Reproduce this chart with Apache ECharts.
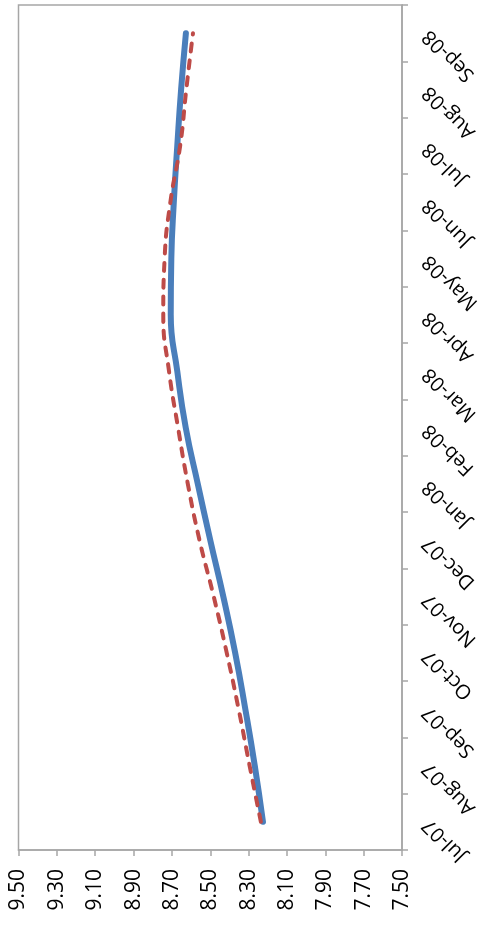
<!DOCTYPE html>
<html>
<head>
<meta charset="utf-8">
<script src="https://cdn.jsdelivr.net/npm/echarts@6/dist/echarts.min.js"></script>
<style>
html,body{margin:0;padding:0;background:#fff;}
#c{width:494px;height:926px;}
</style>
</head>
<body>
<div id="c"></div>
<script>
var categories = ['Jul-07','Aug-07','Sep-07','Oct-07','Nov-07','Dec-07','Jan-08','Feb-08','Mar-08','Apr-08','May-08','Jun-08','Jul-08','Aug-08','Sep-08'];
var seriesBlue = [8.225, 8.268, 8.317, 8.370, 8.432, 8.500, 8.565, 8.628, 8.672, 8.706, 8.703, 8.690, 8.672, 8.652, 8.627];
var seriesRed  = [8.236, 8.295, 8.352, 8.414, 8.482, 8.556, 8.617, 8.668, 8.715, 8.745, 8.738, 8.708, 8.657, 8.625, 8.590];
var valueTicks = [7.5, 7.7, 7.9, 8.1, 8.3, 8.5, 8.7, 8.9, 9.1, 9.3, 9.5];

var chart = echarts.init(document.getElementById('c'), null, {renderer:'canvas'});
var font = '"Open Sans", "DejaVu Sans", sans-serif';
var axisGray = '#a6a6a6';
chart.setOption({
  animation: false,
  backgroundColor: '#ffffff',
  grid: {
    left: 18.5, right: 92, top: 5, bottom: 76,
    show: true, borderColor: axisGray, borderWidth: 1.5,
    containLabel: false, outerBoundsMode: 'none'
  },
  xAxis: {
    type: 'value',
    position: 'bottom',
    inverse: true,
    min: 7.5, max: 9.5,
    splitLine: {show: false},
    axisLine: {show: true, lineStyle: {color: axisGray, width: 1.5}},
    axisTick: {show: true, length: 6, lineStyle: {color: axisGray, width: 1.5}, customValues: valueTicks},
    axisLabel: {
      customValues: valueTicks,
      rotate: 90, margin: 19,
      color: '#000', fontFamily: font, fontSize: 21,
      formatter: function (v) { return Number(v).toFixed(2); }
    }
  },
  yAxis: {
    type: 'category',
    position: 'right',
    data: categories,
    boundaryGap: true,
    splitLine: {show: false},
    axisLine: {show: true, lineStyle: {color: axisGray, width: 1.5}},
    axisTick: {show: true, length: 6, lineStyle: {color: axisGray, width: 1.5}},
    axisLabel: {
      rotate: 135, margin: 24, interval: 0,
      color: '#000', fontFamily: font, fontSize: 20
    }
  },
  series: [
    {
      type: 'line', data: seriesBlue, smooth: 0.5, symbol: 'none',
      lineStyle: {color: '#4a7ebb', width: 6, cap: 'round'}
    },
    {
      type: 'line', data: seriesRed, smooth: 0.5, symbol: 'none',
      lineStyle: {color: '#be4b48', width: 4, type: [8, 9], cap: 'round'}
    }
  ]
});
</script>
</body>
</html>
